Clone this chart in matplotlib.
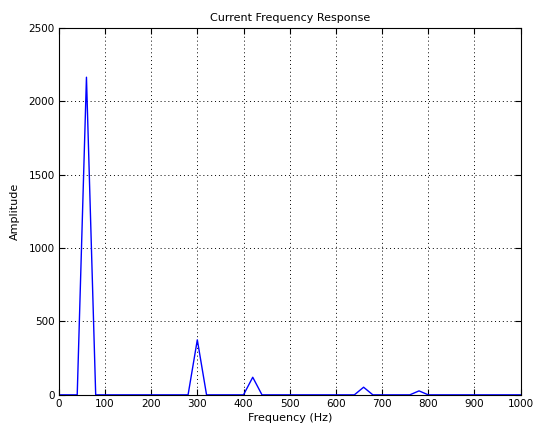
import numpy as np
import matplotlib
matplotlib.use("Agg")
import matplotlib.pyplot as plt

# Spectrum sampled every 20 Hz from 0 to 1000 Hz
freq_hz = np.arange(0, 1001, 20)
peak_freqs = [60, 300, 420, 660, 780]
peak_amps = [2165, 375, 120, 52, 27]

amplitude = np.zeros(len(freq_hz))
for f, a in zip(peak_freqs, peak_amps):
    amplitude[np.searchsorted(freq_hz, f)] = a

xticks = list(range(0, 1001, 100))
yticks = list(range(0, 2501, 500))

fig = plt.figure(figsize=(5.34, 4.32), dpi=100)
ax = fig.add_axes([0.110, 0.086, 0.865, 0.849])

ax.plot(freq_hz, amplitude, color=(0, 0, 1), linewidth=1.0)

ax.set_xlim(0, 1000)
ax.set_ylim(0, 2500)
ax.set_xticks(xticks)
ax.set_yticks(yticks)
ax.tick_params(direction="in", length=4, labelsize=7.5, top=True, right=True,
               width=0.8, pad=3)
ax.grid(True, color="black", linestyle=(0, (1, 3)), linewidth=0.7)
for s in ax.spines.values():
    s.set_linewidth(0.8)

ax.set_title("Current Frequency Response", fontsize=8, pad=5)
ax.set_xlabel("Frequency (Hz)", fontsize=8, labelpad=3)
ax.set_ylabel("Amplitude", fontsize=8, labelpad=6)

fig.savefig("out.png", dpi=100, facecolor="white")
